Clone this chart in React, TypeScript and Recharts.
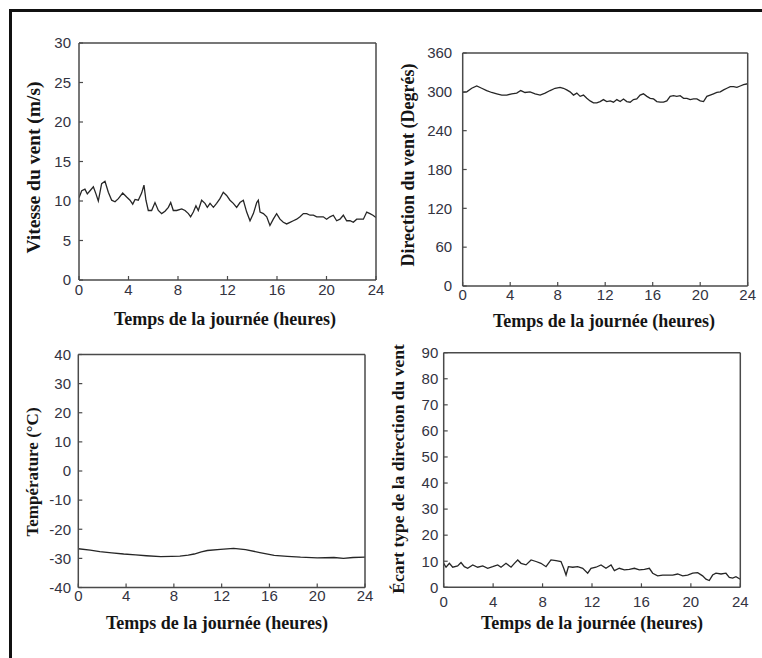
import React from 'react';
import { LineChart, Line, XAxis, YAxis } from 'recharts';

const hourTicks = [0, 4, 8, 12, 16, 20, 24];

const speedTicks = [0, 5, 10, 15, 20, 25, 30];
const speedHours = [0, 0.22, 0.48, 0.67, 0.89, 1.16, 1.37, 1.56, 1.83, 2.1, 2.37, 2.64, 2.91, 3.18, 3.53, 3.85, 4.12, 4.34, 4.53, 4.79, 5.06, 5.25, 5.41, 5.6, 5.87, 6.14, 6.41, 6.68, 6.95, 7.22, 7.41, 7.62, 7.89, 8.3, 8.57, 8.84, 9.02, 9.24, 9.45, 9.64, 9.91, 10.18, 10.37, 10.59, 10.86, 11.12, 11.39, 11.66, 11.93, 12.2, 12.47, 12.74, 13.01, 13.28, 13.55, 13.82, 14.09, 14.36, 14.49, 14.63, 14.9, 15.17, 15.43, 15.7, 15.97, 16.24, 16.51, 16.78, 17.05, 17.32, 17.59, 17.86, 18.13, 18.4, 18.67, 18.94, 19.21, 19.47, 19.74, 20.01, 20.28, 20.55, 20.82, 21.09, 21.36, 21.63, 21.9, 22.17, 22.44, 22.71, 22.98, 23.25, 23.51, 23.75, 24];
const speedValues = [10.4, 11.3, 11.5, 10.9, 11.3, 11.8, 10.9, 10.0, 12.2, 12.5, 11.1, 10.1, 9.9, 10.3, 11.0, 10.5, 10.1, 9.6, 10.2, 10.1, 11.0, 12.0, 10.1, 8.8, 8.8, 9.8, 8.8, 8.4, 8.7, 9.2, 9.8, 8.8, 8.8, 9.0, 8.8, 8.4, 8.0, 8.6, 9.4, 8.8, 10.1, 9.7, 9.2, 9.7, 9.2, 9.7, 10.3, 11.1, 10.7, 10.1, 9.7, 9.2, 9.8, 10.1, 8.6, 7.5, 8.4, 9.8, 10.1, 8.6, 8.4, 8.0, 6.9, 7.7, 8.4, 7.7, 7.3, 7.1, 7.3, 7.5, 7.7, 8.0, 8.4, 8.4, 8.2, 8.2, 8.0, 8.0, 8.0, 7.7, 8.0, 8.2, 7.5, 7.7, 8.2, 7.5, 7.5, 7.3, 7.7, 7.7, 7.7, 8.6, 8.4, 8.2, 7.9];

const dirTicks = [0, 60, 120, 180, 240, 300, 360];
const dirHours = [0, 0.34, 0.76, 1.18, 1.6, 2.02, 2.44, 2.87, 3.29, 3.71, 4.13, 4.55, 4.89, 5.25, 5.67, 6.1, 6.52, 6.94, 7.36, 7.78, 8.2, 8.48, 8.76, 9.04, 9.33, 9.61, 9.89, 10.17, 10.45, 10.73, 11.01, 11.29, 11.57, 11.85, 12.13, 12.42, 12.7, 12.98, 13.26, 13.54, 13.82, 14.1, 14.38, 14.66, 14.94, 15.22, 15.51, 15.79, 16.07, 16.35, 16.63, 16.91, 17.19, 17.47, 17.75, 18.03, 18.31, 18.6, 18.88, 19.16, 19.44, 19.72, 20.0, 20.28, 20.56, 20.84, 21.12, 21.4, 21.69, 21.97, 22.25, 22.53, 22.81, 23.09, 23.37, 23.65, 24];
const dirValues = [299, 300, 305.5, 309, 305.5, 302, 299, 297, 295, 295, 297, 298, 302, 299, 300, 297, 295, 298, 302, 305.5, 307, 305.5, 303, 300, 295, 298, 293, 295, 290, 286, 283, 283, 285, 288, 285, 286, 284, 288, 285, 289, 285, 284, 288, 289, 295, 297, 293, 290, 289, 285, 284, 284, 286, 293, 294, 293, 294, 290, 290, 288, 289, 289, 286, 285, 293, 295, 297, 299, 300, 303, 305.5, 308, 308, 307, 309, 311, 312.5];

const tempTicks = [-40, -30, -20, -10, 0, 10, 20, 30, 40];
const tempHours = [0, 1, 1.8, 2.8, 3.8, 4.8, 5.7, 6.9, 7.8, 8.5, 9.2, 9.7, 10.3, 10.8, 11.9, 13.0, 14.0, 15.2, 16.4, 17.5, 18.6, 20.0, 21.4, 22.2, 23.0, 24];
const tempValues = [-26.7, -27.2, -27.7, -28.1, -28.5, -28.8, -29.1, -29.4, -29.3, -29.2, -28.9, -28.5, -27.8, -27.3, -26.9, -26.6, -27.0, -28.0, -29.0, -29.3, -29.6, -29.8, -29.7, -30.0, -29.7, -29.6];

const sdTicks = [0, 10, 20, 30, 40, 50, 60, 70, 80, 90];
const sdHours = [0, 0.19, 0.46, 0.73, 1.13, 1.4, 1.67, 1.94, 2.35, 2.75, 3.16, 3.56, 3.96, 4.37, 4.64, 5.04, 5.45, 5.72, 5.99, 6.26, 6.66, 7.07, 7.47, 7.87, 8.28, 8.68, 9.09, 9.49, 9.71, 9.9, 10.09, 10.44, 10.84, 11.25, 11.65, 11.92, 12.32, 12.73, 13.13, 13.54, 13.81, 14.21, 14.62, 15.02, 15.43, 15.83, 16.24, 16.64, 16.91, 17.31, 17.72, 18.12, 18.53, 18.93, 19.34, 19.74, 20.15, 20.55, 20.95, 21.22, 21.49, 21.76, 22.03, 22.44, 22.84, 23.11, 23.38, 23.65, 24];
const sdValues = [9.2, 7.7, 9.2, 7.7, 8.2, 9.5, 7.9, 7.3, 8.6, 7.7, 8.2, 7.3, 7.9, 8.6, 7.7, 9.2, 7.7, 9.2, 10.5, 9.2, 8.6, 10.5, 9.9, 9.2, 7.9, 10.5, 10.2, 9.9, 7.3, 4.7, 7.9, 7.7, 7.9, 7.3, 5.4, 7.3, 7.7, 8.6, 7.3, 8.6, 6.4, 7.3, 6.7, 6.9, 7.3, 6.7, 6.9, 7.3, 5.4, 4.4, 4.7, 4.7, 4.7, 5.1, 4.4, 4.7, 5.4, 5.6, 4.4, 3.1, 2.6, 4.7, 5.4, 5.1, 5.4, 3.8, 3.5, 4.1, 3.1];

const W = 762;
const H = 658;
const AX = '#4a4a4a';
const tickStyle = { fill: '#33333f', fontSize: 15, fontFamily: 'Liberation Sans, Arial, sans-serif' };

type Box = { l: number; t: number; r: number; b: number };

function Panel(props: {
  hours: number[];
  values: number[];
  yDomain: [number, number];
  yTicks: number[];
  box: Box;
  yTm: number;
  xTm: number;
}) {
  const { hours, values, yDomain, yTicks, box, yTm, xTm } = props;
  const data = hours.map((h, i) => ({ h, v: values[i] }));
  return (
    <div style={{ position: 'absolute', left: 0, top: 0 }}>
      <LineChart
        width={W}
        height={H}
        data={data}
        margin={{ left: box.l - 1, top: box.t - 1, right: W - box.r - 1, bottom: H - box.b - 1 }}
      >
        <XAxis
          xAxisId="b"
          dataKey="h"
          type="number"
          domain={[0, 24]}
          ticks={hourTicks}
          interval={0}
          height={1}
          tickSize={-4}
          tickMargin={xTm}
          stroke={AX}
          axisLine={{ stroke: AX, strokeWidth: 1.5 }}
          tickLine={{ stroke: AX, strokeWidth: 1.2 }}
          tick={tickStyle}
          allowDataOverflow
        />
        <XAxis
          xAxisId="t"
          orientation="top"
          dataKey="h"
          type="number"
          domain={[0, 24]}
          ticks={hourTicks}
          interval={0}
          height={1}
          tickSize={-4}
          stroke={AX}
          axisLine={{ stroke: AX, strokeWidth: 1.5 }}
          tickLine={{ stroke: AX, strokeWidth: 1.2 }}
          tick={false}
          allowDataOverflow
        />
        <YAxis
          yAxisId="l"
          type="number"
          domain={yDomain}
          ticks={yTicks}
          interval={0}
          width={1}
          tickSize={-4}
          tickMargin={yTm}
          stroke={AX}
          axisLine={{ stroke: AX, strokeWidth: 1.5 }}
          tickLine={{ stroke: AX, strokeWidth: 1.2 }}
          tick={tickStyle}
          allowDataOverflow
        />
        <YAxis
          yAxisId="r"
          orientation="right"
          type="number"
          domain={yDomain}
          ticks={yTicks}
          interval={0}
          width={1}
          tickSize={-4}
          stroke={AX}
          axisLine={{ stroke: AX, strokeWidth: 1.5 }}
          tickLine={{ stroke: AX, strokeWidth: 1.2 }}
          tick={false}
          allowDataOverflow
        />
        <Line
          xAxisId="b"
          yAxisId="l"
          dataKey="v"
          type="linear"
          stroke="#262626"
          strokeWidth={1.3}
          dot={false}
          isAnimationActive={false}
        />
      </LineChart>
    </div>
  );
}

const serif = 'Liberation Serif, Times New Roman, serif';

function YLabel(props: { x: number; y: number; size: number; text: string }) {
  return (
    <text
      transform={`translate(${props.x},${props.y}) rotate(-90)`}
      textAnchor="middle"
      fontFamily={serif}
      fontWeight="bold"
      fontSize={props.size}
      fill="#151515"
    >
      {props.text}
    </text>
  );
}

function XLabel(props: { x: number; y: number; text: string }) {
  return (
    <text x={props.x} y={props.y} textAnchor="middle" fontFamily={serif} fontWeight="bold" fontSize={18} fill="#151515">
      {props.text}
    </text>
  );
}

export default function App() {
  const xl = 'Temps de la journée (heures)';
  return (
    <div style={{ position: 'absolute', left: 0, top: 0, width: W, height: H, background: '#fff', overflow: 'hidden' }}>
      <div
        style={{
          position: 'absolute',
          left: 9,
          top: 9,
          width: 820,
          height: 720,
          borderTop: '3px solid #111',
          borderLeft: '3px solid #111',
        }}
      />
      <Panel hours={speedHours} values={speedValues} yDomain={[0, 30]} yTicks={speedTicks} box={{ l: 79, t: 43, r: 376, b: 280 }} yTm={12} xTm={8} />
      <Panel hours={dirHours} values={dirValues} yDomain={[0, 360]} yTicks={dirTicks} box={{ l: 462.7, t: 53, r: 747.7, b: 286 }} yTm={14.5} xTm={7.3} />
      <Panel hours={tempHours} values={tempValues} yDomain={[-40, 40]} yTicks={tempTicks} box={{ l: 78.3, t: 354.5, r: 365, b: 587.5 }} yTm={11.3} xTm={7.3} />
      <Panel hours={sdHours} values={sdValues} yDomain={[0, 90]} yTicks={sdTicks} box={{ l: 443.7, t: 352.7, r: 740.3, b: 587.3 }} yTm={9.4} xTm={13} />
      <svg width={W} height={H} style={{ position: 'absolute', left: 0, top: 0 }}>
        <XLabel x={225} y={325} text={xl} />
        <XLabel x={604} y={327} text={xl} />
        <XLabel x={217} y={629} text={xl} />
        <XLabel x={592} y={629} text={xl} />
        <g transform="translate(5.5,0)">
          <YLabel x={34} y={167.5} size={19.5} text="Vitesse du vent (m/s)" />
        </g>
        <g transform="translate(5,0)">
          <YLabel x={409} y={165} size={18} text="Direction du vent (Degrés)" />
        </g>
        <g transform="translate(5,0)">
          <YLabel x={32.5} y={472} size={17} text="Température (°C)" />
        </g>
        <g transform="translate(5,0)">
          <YLabel x={399} y={469} size={17.5} text="Écart type de la direction du vent" />
        </g>
      </svg>
    </div>
  );
}
